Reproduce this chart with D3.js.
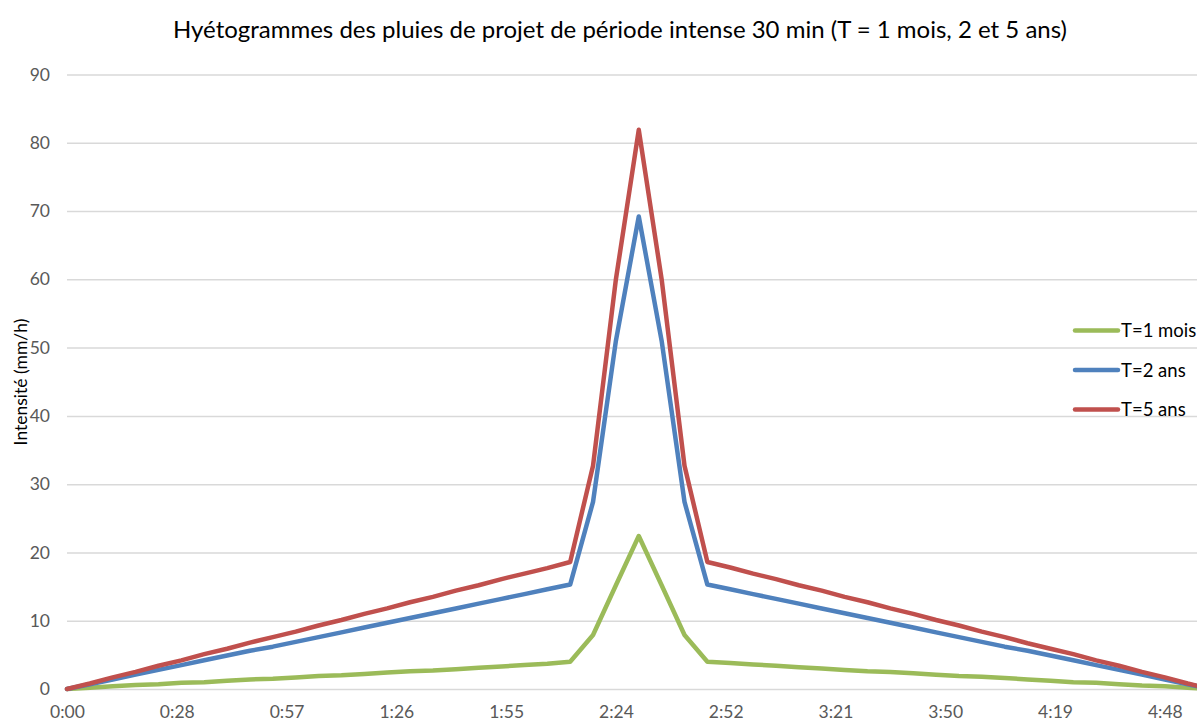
<!DOCTYPE html>
<html>
<head>
<meta charset="utf-8">
<script src="https://cdn.jsdelivr.net/npm/d3@7"></script>
<style>
  html, body { margin: 0; padding: 0; background: #fff; overflow: hidden; }
  svg { display: block; }
</style>
</head>
<body>
<svg id="chart" width="1197" height="722"></svg>
<script>
// Time of each step, in minutes from the start of the storm
const minutes = [
  0, 6, 12, 18, 24, 30, 36, 42, 48, 54,
  60, 66, 72, 78, 84, 90, 96, 102, 108, 114,
  120, 126, 132, 138, 144, 150, 156, 162, 168, 174,
  180, 186, 192, 198, 204, 210, 216, 222, 228, 234,
  240, 246, 252, 258, 264, 270, 276, 282, 288, 294, 300
];

// Rain intensity (mm/h) for each return period
const t1mois = [
  0, 0.2, 0.4, 0.6, 0.7, 0.9, 1.0, 1.2, 1.4, 1.5,
  1.7, 1.9, 2.0, 2.2, 2.4, 2.6, 2.7, 2.9, 3.1, 3.3,
  3.5, 3.7, 4.0, 7.9, 15.2, 22.4, 15.2, 7.9, 4.0, 3.8,
  3.6, 3.4, 3.2, 3.0, 2.8, 2.6, 2.5, 2.3, 2.1, 1.9,
  1.8, 1.6, 1.4, 1.2, 1.0, 0.9, 0.7, 0.5, 0.4, 0.2, 0
];
const t2ans = [
  0, 0.7, 1.4, 2.1, 2.8, 3.5, 4.2, 4.9, 5.6, 6.2,
  6.9, 7.6, 8.3, 9.0, 9.7, 10.4, 11.1, 11.8, 12.5, 13.2,
  13.9, 14.6, 15.3, 27.4, 51.0, 69.2, 51.0, 27.4, 15.3, 14.6,
  13.9, 13.2, 12.5, 11.8, 11.1, 10.4, 9.7, 9.0, 8.3, 7.6,
  6.9, 6.2, 5.6, 4.9, 4.2, 3.5, 2.8, 2.1, 1.4, 0.7, 0
];
const t5ans = [
  0, 0.8, 1.7, 2.5, 3.4, 4.2, 5.1, 5.9, 6.8, 7.6,
  8.4, 9.3, 10.1, 11.0, 11.8, 12.7, 13.5, 14.4, 15.2, 16.1,
  16.9, 17.7, 18.6, 32.7, 60.0, 81.9, 60.0, 32.7, 18.6, 17.8,
  16.9, 16.1, 15.2, 14.4, 13.5, 12.7, 11.8, 11.0, 10.1, 9.3,
  8.4, 7.6, 6.7, 5.9, 5.1, 4.2, 3.4, 2.5, 1.7, 0.8, 0
];

const seriesNames = ["T=1 mois", "T=2 ans", "T=5 ans"];
const seriesColors = ["#9BBB59", "#4F81BD", "#C0504D"];
const seriesValues = [t1mois, t2ans, t5ans];

// Axis ticks: every 0.02 day (28.8 min), intensity every 10 mm/h
const xTicks = [0, 28.8, 57.6, 86.4, 115.2, 144, 172.8, 201.6, 230.4, 259.2, 288];
const yTicks = [0, 10, 20, 30, 40, 50, 60, 70, 80, 90];

const titleText = "Hyétogrammes des pluies de projet de période intense 30 min (T = 1 mois, 2 et 5 ans)";
const yAxisTitle = "Intensité (mm/h)";

const svg = d3.select("#chart");
const W = 1197, H = 722;
const font = "Lato, 'Open Sans', sans-serif";

const x = d3.scaleLinear().domain([0, 288]).range([67, 1164.8]);
const y = d3.scaleLinear().domain([0, 90]).range([689, 74.5]);

const fmtTime = m => {
  const t = Math.floor(m + 1e-6);
  return Math.floor(t / 60) + ":" + String(t % 60).padStart(2, "0");
};

// Horizontal gridlines
const yAxis = d3.axisLeft(y).tickValues(yTicks).tickSize(-(W - 67 + 40)).tickPadding(17).tickFormat(d3.format("d"));
const gy = svg.append("g").attr("transform", "translate(67,0)").call(yAxis);
gy.select(".domain").remove();
gy.selectAll(".tick line").attr("stroke", "#D9D9D9").attr("stroke-width", 1.5);
gy.selectAll(".tick text")
  .attr("fill", "#595959")
  .style("font-family", font)
  .style("font-size", "17.5px");

// Time axis labels
const xAxis = d3.axisBottom(x).tickValues(xTicks).tickSize(0).tickPadding(17).tickFormat(fmtTime);
const gx = svg.append("g").attr("transform", "translate(0,689)").call(xAxis);
gx.select(".domain").remove();
gx.selectAll(".tick text")
  .attr("fill", "#595959")
  .style("font-family", font)
  .style("font-size", "17.5px");

// Lines
const line = d3.line()
  .x((d, i) => x(minutes[i]))
  .y(d => y(d));

const plot = svg.append("g");
seriesValues.forEach((vals, k) => {
  plot.append("path")
    .datum(vals)
    .attr("d", line)
    .attr("fill", "none")
    .attr("stroke", seriesColors[k])
    .attr("stroke-width", 4.5)
    .attr("stroke-linejoin", "round")
    .attr("stroke-linecap", "round");
});

// Title
svg.append("text")
  .attr("x", 620)
  .attr("y", 38)
  .attr("text-anchor", "middle")
  .attr("fill", "#000")
  .style("font-family", font)
  .style("font-size", "24px")
  .text(titleText);

// Y axis title
svg.append("text")
  .attr("transform", "translate(27,382) rotate(-90)")
  .attr("text-anchor", "middle")
  .attr("fill", "#000")
  .style("font-family", font)
  .style("font-size", "17.5px")
  .text(yAxisTitle);

// Legend
const legend = svg.append("g");
const legendY = [330.5, 370, 409.5];
seriesNames.forEach((name, k) => {
  legend.append("line")
    .attr("x1", 1075).attr("x2", 1118)
    .attr("y1", legendY[k]).attr("y2", legendY[k])
    .attr("stroke", seriesColors[k])
    .attr("stroke-width", 4.5)
    .attr("stroke-linecap", "round");
  legend.append("text")
    .attr("x", 1121)
    .attr("y", legendY[k] + 6.5)
    .attr("fill", "#000")
    .style("font-family", font)
    .style("font-size", "18.5px")
    .text(name);
});
</script>
</body>
</html>
